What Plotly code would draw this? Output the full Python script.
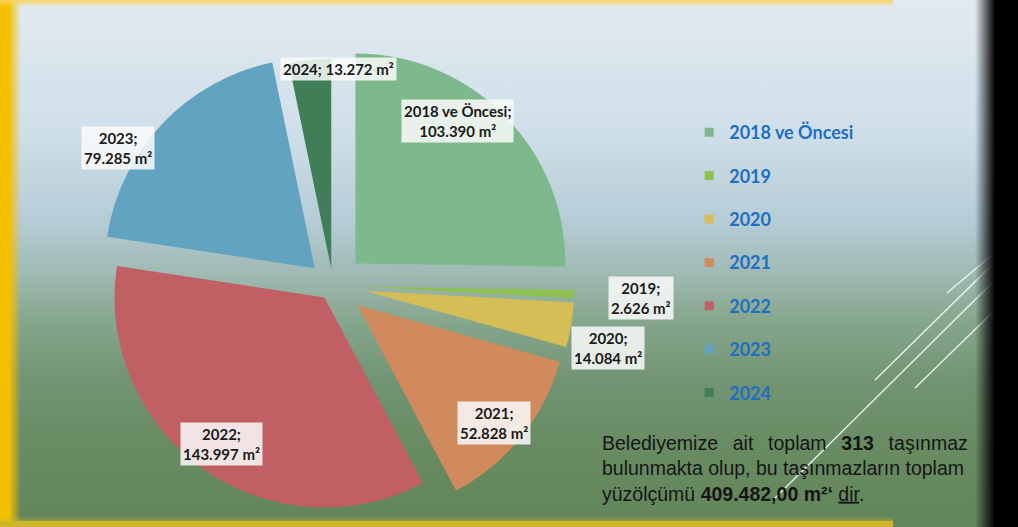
import base64
import plotly.graph_objects as go

# data
categories = ["2018 ve Öncesi", "2019", "2020", "2021", "2022", "2023", "2024"]
areas = [103390, 2626, 14084, 52828, 143997, 79285, 13272]
total_parcels = 313
total_area = "409.482,00"

colors = ["#7DB98D", "#8DC152", "#D4BE55", "#D08A5E", "#C06065", "#62A3C1", "#3F7E56"]
pulls = [0.15, 0.15, 0.15, 0.15, 0.07, 0.12, 0.08]

# label box centres (px) for the data callouts
label_pos = {
    "2018 ve Öncesi": (457, 121),
    "2019": (641, 298),
    "2020": (608, 348),
    "2021": (494, 423),
    "2022": (221, 444),
    "2023": (118, 148),
    "2024": (338, 69),
}

W, H = 1018, 527

# slide background: gradient, yellow frame, black right edge, decorative lines
svg = f'''<svg xmlns="http://www.w3.org/2000/svg" width="{W}" height="{H}" viewBox="0 0 {W} {H}">
<defs>
<linearGradient id="bg" x1="0" y1="0" x2="0" y2="1">
<stop offset="0" stop-color="#E2EAF0"/>
<stop offset="0.25" stop-color="#CFDFE9"/>
<stop offset="0.42" stop-color="#B5CCD6"/>
<stop offset="0.52" stop-color="#9FB9B3"/>
<stop offset="0.6" stop-color="#88A88F"/>
<stop offset="0.72" stop-color="#729473"/>
<stop offset="0.85" stop-color="#688B62"/>
<stop offset="1" stop-color="#62855A"/>
</linearGradient>
<linearGradient id="rf" x1="0" y1="0" x2="1" y2="0">
<stop offset="0" stop-color="#000" stop-opacity="0"/>
<stop offset="1" stop-color="#000" stop-opacity="1"/>
</linearGradient>
<linearGradient id="lf" x1="0" y1="0" x2="1" y2="0">
<stop offset="0" stop-color="#F4C000" stop-opacity="1"/>
<stop offset="1" stop-color="#F4C000" stop-opacity="0"/>
</linearGradient>
<linearGradient id="tf" x1="0" y1="0" x2="0" y2="1">
<stop offset="0" stop-color="#F7D560" stop-opacity="1"/>
<stop offset="1" stop-color="#F7D560" stop-opacity="0"/>
</linearGradient>
<linearGradient id="bf" x1="0" y1="1" x2="0" y2="0">
<stop offset="0" stop-color="#CDB628" stop-opacity="1"/>
<stop offset="1" stop-color="#CDB628" stop-opacity="0"/>
</linearGradient>
</defs>
<rect width="{W}" height="{H}" fill="url(#bg)"/>
<g stroke="#FFFFFF" stroke-width="1.4" stroke-opacity="0.85">
<line x1="947" y1="293" x2="992" y2="255"/>
<line x1="875" y1="380" x2="992" y2="265"/>
<line x1="773" y1="500" x2="993" y2="282"/>
<line x1="915" y1="388" x2="993" y2="312"/>
</g>
<rect x="0" y="0" width="9" height="{H}" fill="#F4C000"/>
<rect x="9" y="0" width="12" height="{H}" fill="url(#lf)"/>
<rect x="0" y="0" width="893" height="7" fill="url(#tf)"/>
<rect x="0" y="516" width="893" height="11" fill="url(#bf)"/>
<rect x="0" y="521" width="893" height="6" fill="#CDB628"/>
<rect x="975" y="0" width="20" height="{H}" fill="url(#rf)"/>
<rect x="995" y="0" width="23" height="{H}" fill="#000"/>
</svg>'''
bg_uri = "data:image/svg+xml;base64," + base64.b64encode(svg.encode("utf-8")).decode()

fig = go.Figure()

fig.add_trace(go.Pie(
    labels=categories,
    values=areas,
    sort=False,
    direction="clockwise",
    rotation=0,
    pull=pulls,
    marker=dict(colors=colors, line=dict(width=0)),
    textinfo="none",
    showlegend=False,
    domain=dict(x=[0.0899, 0.5643], y=[0.0, 0.9165]),
    hoverinfo="label+value+percent",
))

# legend entries (square swatches, spaced like the slide)
for cat, col in zip(categories, colors):
    fig.add_trace(go.Scatter(
        x=[None], y=[None],
        mode="markers",
        marker=dict(symbol="square", size=9, color=col),
        name=cat,
        legendgroup=cat,
        hoverinfo="skip",
    ))

annotations = []
for cat, val in zip(categories, areas):
    num = f"{val:,}".replace(",", ".")
    sep = " " if cat == "2024" else "<br>"
    px, py = label_pos[cat]
    annotations.append(dict(
        x=px / W, y=1 - py / H, xref="paper", yref="paper",
        xanchor="center", yanchor="middle",
        text=f"{cat};{sep}{num} m²",
        showarrow=False,
        align="center",
        font=dict(family="Lato", size=15, color="#1B1B1B", weight="bold"),
        bgcolor="rgba(250,250,250,0.85)",
        borderpad=2,
    ))

sp = "\u00a0\u2009 "
annotations.append(dict(
    x=600 / W, y=1 - 430 / H, xref="paper", yref="paper",
    xanchor="left", yanchor="top", align="left",
    showarrow=False,
    text=(f"Belediyemize{sp}ait{sp}toplam{sp}<b>{total_parcels}</b>{sp}taşınmaz<br>"
          "bulunmakta olup, bu taşınmazların toplam<br>"
          f"yüzölçümü <b>{total_area} m²‘</b> <u>dir</u>."),
    font=dict(family="Liberation Sans", size=19.5, color="#161616"),
))

fig.update_layout(
    width=W, height=H,
    autosize=False,
    margin=dict(l=0, r=0, t=0, b=0),
    paper_bgcolor="#9FB9B3",
    plot_bgcolor="rgba(0,0,0,0)",
    xaxis=dict(visible=False),
    yaxis=dict(visible=False),
    images=[dict(
        source=bg_uri, xref="paper", yref="paper",
        x=0, y=1, sizex=1, sizey=1,
        xanchor="left", yanchor="top",
        sizing="stretch", layer="below",
    )],
    legend=dict(
        x=0.677, y=1 - 114 / H,
        xanchor="left", yanchor="top",
        bgcolor="rgba(0,0,0,0)",
        font=dict(family="Lato", size=18, color="#1F6EBF", weight="bold"),
        tracegroupgap=17,
        traceorder="grouped",
    ),
    annotations=annotations,
)

fig.write_html(
    "out.html",
    config={"displayModeBar": False},
    post_script="document.body.style.margin='0';document.body.style.overflow='hidden';",
)
